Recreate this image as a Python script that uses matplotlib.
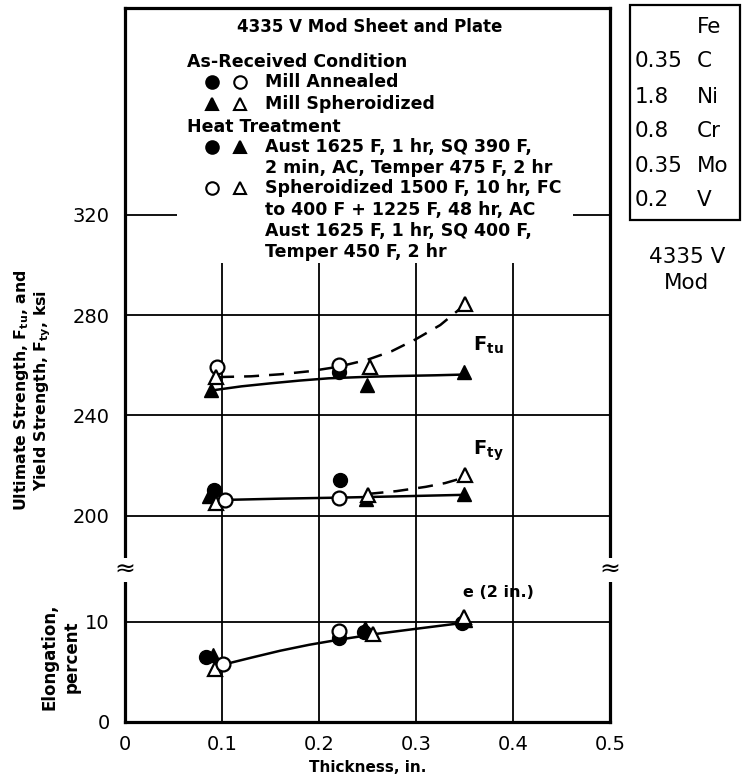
import numpy as np
import matplotlib.pyplot as plt
from matplotlib.patches import Rectangle

# thickness, in. / strength, ksi / elongation, percent
ftu_fc_x = [0.221]
ftu_fc_y = [257.5]
ftu_oc_x = [0.095, 0.221]
ftu_oc_y = [259.5, 260.2]
ftu_ft_x = [0.089, 0.249, 0.349]
ftu_ft_y = [250.3, 252.3, 257.4]
ftu_ot_x = [0.094, 0.253, 0.350]
ftu_ot_y = [255.3, 259.5, 284.5]

fty_fc_x = [0.092, 0.222]
fty_fc_y = [210.2, 214.3]
fty_oc_x = [0.103, 0.221]
fty_oc_y = [206.4, 207.0]
fty_ft_x = [0.087, 0.248, 0.349]
fty_ft_y = [207.8, 206.6, 208.6]
fty_ot_x = [0.094, 0.250, 0.350]
fty_ot_y = [205.0, 208.5, 216.3]

el_fc_x = [0.084, 0.221, 0.246, 0.347]
el_fc_y = [6.5, 8.4, 9.0, 9.9]
el_oc_x = [0.101, 0.221]
el_oc_y = [5.8, 9.1]
el_ft_x = [0.091, 0.247, 0.350]
el_ft_y = [6.7, 9.4, 10.2]
el_ot_x = [0.093, 0.256, 0.349]
el_ot_y = [5.3, 8.8, 10.5]

# faired curves
ftu_solid_x = [0.09, 0.12, 0.15, 0.18, 0.21, 0.25, 0.28, 0.32, 0.35]
ftu_solid_y = [250.0, 251.6, 252.8, 253.9, 254.8, 255.4, 255.7, 256.0, 256.3]
ftu_dash_x = [0.097, 0.13, 0.16, 0.19, 0.22, 0.25, 0.275, 0.30, 0.325, 0.347]
ftu_dash_y = [255.3, 255.6, 256.4, 257.6, 259.4, 262.2, 265.6, 270.4, 276.0, 283.0]
fty_solid_x = [0.103, 0.16, 0.22, 0.28, 0.347]
fty_solid_y = [206.4, 206.9, 207.3, 207.8, 208.4]
fty_dash_x = [0.251, 0.28, 0.31, 0.33, 0.347]
fty_dash_y = [208.8, 209.9, 211.6, 213.1, 215.0]
el_line_x = [0.101, 0.13, 0.16, 0.19, 0.22, 0.26, 0.30, 0.345]
el_line_y = [5.7, 6.4, 7.1, 7.7, 8.2, 8.8, 9.3, 9.85]

x_ticks = [0, 0.1, 0.2, 0.3, 0.4, 0.5]
x_labels = ["0", "0.1", "0.2", "0.3", "0.4", "0.5"]
s_ticks = [200, 240, 280, 320]
e_ticks = [0, 10]

comp_pct = ["", "0.35", "1.8", "0.8", "0.35", "0.2"]
comp_el = ["Fe", "C", "Ni", "Cr", "Mo", "V"]

W, H = 747, 780


def fx(x):
    return x / W


def fy(y):
    return 1 - y / H


plt.rcParams["font.family"] = "DejaVu Sans"
fig = plt.figure(figsize=(W / 100, H / 100), dpi=100)

up = fig.add_axes([fx(125), fy(570), fx(610) - fx(125), fy(8) - fy(570)])
lo = fig.add_axes([fx(125), fy(722), fx(610) - fx(125), fy(570) - fy(722)])

for ax in (up, lo):
    ax.set_xlim(0, 0.5)
    for s in ax.spines.values():
        s.set_linewidth(2.3)
    ax.set_axisbelow(True)
    ax.grid(True, color="black", linewidth=1.3)
    ax.tick_params(length=0, labelsize=14, pad=11)

up.set_ylim(178.5, 402.2)
up.spines["bottom"].set_visible(False)
up.set_yticks(s_ticks)
up.set_xticks([0.1, 0.2, 0.3, 0.4])
up.tick_params(labelbottom=False)

lo.set_ylim(-0.05, 15.2)
lo.spines["top"].set_visible(False)
lo.set_yticks(e_ticks)
lo.set_xticks(x_ticks)
lo.set_xticklabels(x_labels)
lo.tick_params(axis="x", pad=9)

filled = dict(color="black", linestyle="none", markersize=10, zorder=4)
opened = dict(color="black", markerfacecolor="white", markeredgewidth=1.6,
              linestyle="none", markersize=10, zorder=5)
line_kw = dict(color="black", linewidth=1.8, zorder=3)
dash_kw = dict(color="black", linewidth=1.8, dashes=(6, 4), zorder=3)

up.plot(ftu_solid_x, ftu_solid_y, **line_kw)
up.plot(ftu_dash_x, ftu_dash_y, **dash_kw)
up.plot(fty_solid_x, fty_solid_y, **line_kw)
up.plot(fty_dash_x, fty_dash_y, **dash_kw)
lo.plot(el_line_x, el_line_y, **line_kw)

up.plot(ftu_fc_x, ftu_fc_y, marker="o", **filled)
up.plot(ftu_ft_x, ftu_ft_y, marker="^", **filled)
up.plot(ftu_oc_x, ftu_oc_y, marker="o", **opened)
up.plot(ftu_ot_x, ftu_ot_y, marker="^", **opened)
up.plot(fty_ot_x, fty_ot_y, marker="^", **opened)
up.plot(fty_oc_x, fty_oc_y, marker="o", **opened)
up.plot(fty_fc_x, fty_fc_y, marker="o", **filled)
up.plot(fty_ft_x, fty_ft_y, marker="^", **filled)

lo.plot(el_ot_x, el_ot_y, marker="^", **opened)
lo.plot(el_oc_x, el_oc_y, marker="o", **opened)
lo.plot(el_fc_x, el_fc_y, marker="o", **filled)
lo.plot(el_ft_x, el_ft_y, marker="^", **filled)

up.text(0.359, 268, r"$\mathbf{F_{tu}}$", fontsize=14, va="center")
up.text(0.359, 226, r"$\mathbf{F_{ty}}$", fontsize=14, va="center")
lo.text(0.348, 12.9, "e (2 in.)", fontsize=11.5, fontweight="bold", va="center")

# white legend panel over the grid
up.add_patch(Rectangle((0.107, 0.546), 0.817, 0.46, transform=up.transAxes,
                       facecolor="white", edgecolor="none", zorder=2.5))

leg = dict(fontsize=12.5, fontweight="bold", va="center")
fig.text(fx(370), fy(27), "4335 V Mod Sheet and Plate", ha="center",
         fontsize=12, fontweight="bold", va="center")
fig.text(fx(187), fy(62), "As-Received Condition", **leg)
fig.text(fx(265), fy(82), "Mill Annealed", **leg)
fig.text(fx(265), fy(104), "Mill Spheroidized", **leg)
fig.text(fx(187), fy(127), "Heat Treatment", **leg)
fig.text(fx(265), fy(147), "Aust 1625 F, 1 hr, SQ 390 F,", **leg)
fig.text(fx(265), fy(168), "2 min, AC, Temper 475 F, 2 hr", **leg)
fig.text(fx(265), fy(188), "Spheroidized 1500 F, 10 hr, FC", **leg)
fig.text(fx(265), fy(210), "to 400 F + 1225 F, 48 hr, AC", **leg)
fig.text(fx(265), fy(231), "Aust 1625 F, 1 hr, SQ 400 F,", **leg)
fig.text(fx(265), fy(252), "Temper 450 F, 2 hr", **leg)

key = [(82, "o", "black", "o", "white"),
       (104, "^", "black", "^", "white"),
       (147, "o", "black", "^", "black"),
       (188, "o", "white", "^", "white")]
for yy, m1, c1, m2, c2 in key:
    fig.lines.append(plt.Line2D([fx(212)], [fy(yy)], marker=m1, markerfacecolor=c1,
                                markeredgecolor="black", markeredgewidth=1.5,
                                markersize=9, transform=fig.transFigure))
    fig.lines.append(plt.Line2D([fx(240)], [fy(yy)], marker=m2, markerfacecolor=c2,
                                markeredgecolor="black", markeredgewidth=1.5,
                                markersize=9, transform=fig.transFigure))

# axis titles
fig.text(fx(22), fy(390), r"Ultimate Strength, $\mathbf{F_{tu}}$, and",
         rotation=90, ha="center", va="center", fontsize=11.3, fontweight="bold")
fig.text(fx(43), fy(390), r"Yield Strength, $\mathbf{F_{ty}}$, ksi",
         rotation=90, ha="center", va="center", fontsize=11.3, fontweight="bold")
fig.text(fx(50), fy(657), "Elongation,", rotation=90, ha="center", va="center",
         fontsize=12, fontweight="bold")
fig.text(fx(72), fy(657), "percent", rotation=90, ha="center", va="center",
         fontsize=12, fontweight="bold")
fig.text(fx(368), fy(768), "Thickness, in.", ha="center", va="center",
         fontsize=11, fontweight="bold")

# axis break marks
for bx in (125, 610):
    fig.text(fx(bx), fy(570), "\u2248", ha="center", va="center", fontsize=18,
             bbox=dict(facecolor="white", edgecolor="none", pad=0), zorder=10)

# composition box
fig.patches.append(Rectangle((fx(630), fy(220)), fx(740) - fx(630), fy(5) - fy(220),
                             transform=fig.transFigure, facecolor="none",
                             edgecolor="black", linewidth=1.6))
rows = [27, 61, 97, 131, 166, 200]
for yy, p, e in zip(rows, comp_pct, comp_el):
    fig.text(fx(635), fy(yy), p, fontsize=15.5, va="center")
    fig.text(fx(697), fy(yy), e, fontsize=15.5, va="center")
fig.text(fx(687), fy(270), "4335 V\nMod", ha="center", va="center",
         fontsize=15.5, linespacing=1.4)

fig.savefig("out.png", dpi=100)
